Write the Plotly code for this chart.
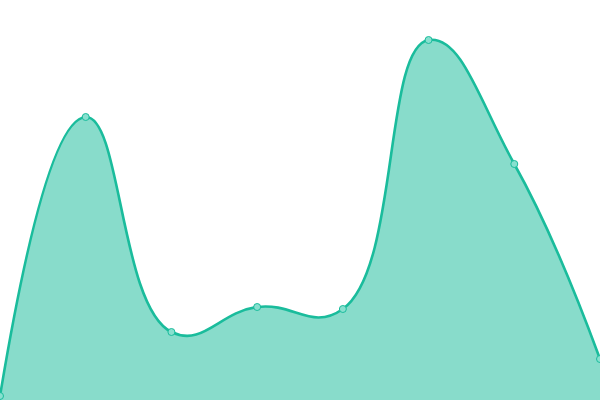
import plotly.graph_objects as go

x_vals = [0, 1, 2, 3, 4, 5, 6, 7]
y_vals = [4, 283, 68, 93, 91, 360, 236, 41]

fig = go.Figure()
fig.add_trace(go.Scatter(
    x=x_vals, y=y_vals,
    mode="lines+markers",
    line=dict(shape="spline", smoothing=1.3, color="#1abc9c", width=2.6),
    fill="tozeroy",
    fillcolor="rgba(26,188,156,0.52)",
    marker=dict(size=7, color="#88e0cf", line=dict(color="#1abc9c", width=1)),
    hoverinfo="skip",
))
fig.update_layout(
    width=600, height=400,
    margin=dict(l=0, r=0, t=0, b=0),
    paper_bgcolor="white", plot_bgcolor="white",
    showlegend=False,
    xaxis=dict(range=[0, 7], visible=False, fixedrange=True),
    yaxis=dict(range=[0, 400], visible=False, fixedrange=True),
)
fig.write_html(
    "out.html",
    config={"displayModeBar": False},
    post_script="document.body.style.margin='0';document.body.style.overflow='hidden';",
)
